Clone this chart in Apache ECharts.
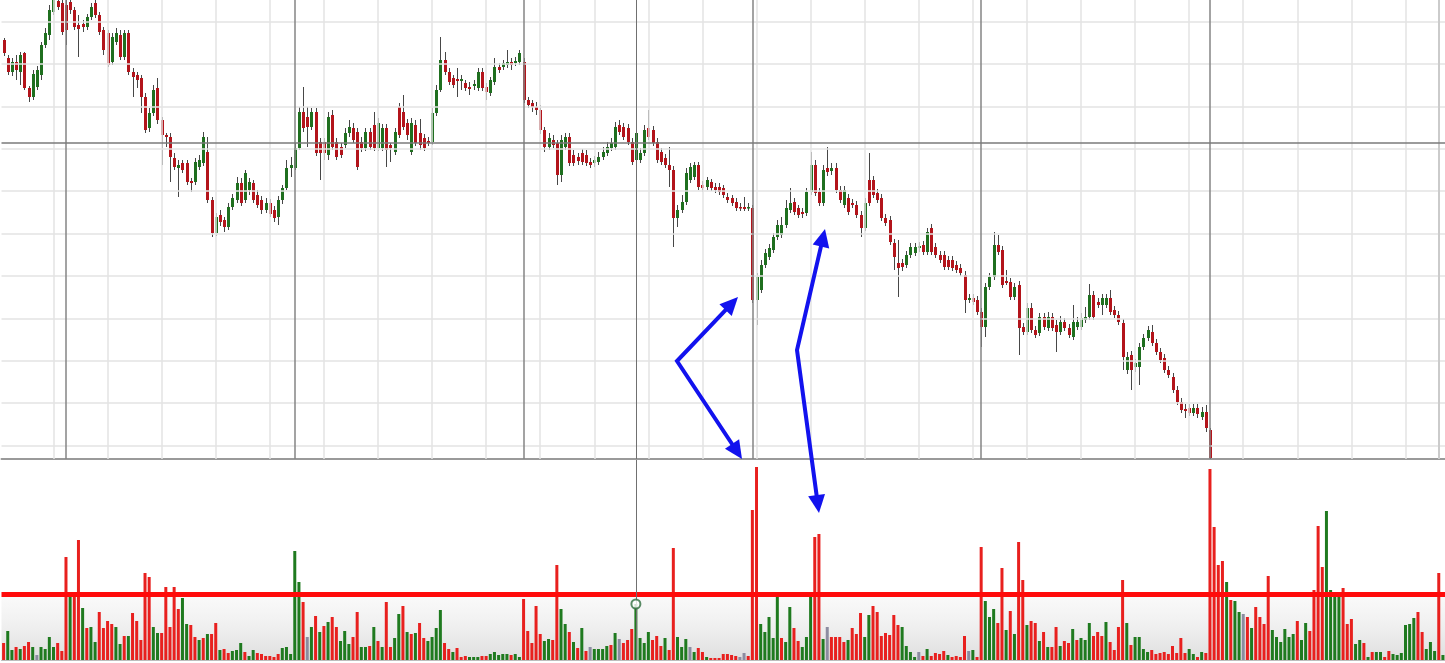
<!DOCTYPE html>
<html><head><meta charset="utf-8">
<script src="https://cdn.jsdelivr.net/npm/echarts@6/dist/echarts.min.js"></script>
<style>html,body{margin:0;padding:0;background:#fff}#chart{width:1445px;height:663px}</style>
</head><body><div id="chart"></div>
<script>
// ---- price candles (arbitrary price units) ----
const candleOpen = [
460,442,428,438,428,447,412,403,413,425,
455,465,488,499,497,495,498,490,475,476,
473,483,497,485,470,467,438,458,465,443,
467,428,425,422,403,372,387,412,380,365,
363,342,332,337,337,319,318,333,337,348,
300,267,285,280,273,293,300,317,300,310,
317,305,300,290,297,290,283,300,312,332,
332,352,388,383,373,388,358,358,345,385,
358,353,355,367,372,368,358,352,368,375,
352,352,372,355,348,393,388,377,348,375,
367,362,359,358,387,410,440,428,422,421,
419,417,413,414,412,428,413,407,418,433,
433,435,438,437,438,438,400,397,393,390,
370,353,360,357,325,353,363,345,343,347,
345,338,337,338,343,347,352,353,375,373,
372,358,340,340,347,372,370,358,348,342,
335,330,282,290,298,320,323,335,315,313,
318,313,313,312,303,302,298,293,293,292,
292,200,210,235,243,250,263,265,275,290,
298,292,288,287,308,335,308,297,332,329,
332,310,295,302,297,295,285,272,320,320,
307,302,282,280,257,237,237,235,245,247,
252,255,248,272,253,245,245,240,240,235,
232,225,200,202,200,188,173,213,223,255,
250,219,218,203,215,173,168,192,170,167,
183,172,183,175,168,178,172,163,173,173,
180,183,205,198,195,195,202,190,185,177,
130,145,133,133,153,162,168,157,148,142,
130,123,110,98,91,92,87,92,83,88,70];
const candleClose = [
447,428,438,430,445,412,403,426,430,455,
467,490,500,493,468,470,490,473,471,473,
483,493,485,468,450,435,463,467,443,467,
428,423,420,403,370,387,410,380,365,363,
343,333,335,330,318,317,338,340,363,300,
267,283,278,273,293,302,317,297,327,318,
300,295,290,297,286,282,300,312,332,335,
352,388,372,373,388,347,347,347,383,353,
343,345,367,373,360,333,352,368,353,352,
377,372,350,352,368,365,373,365,377,357,
355,352,357,387,410,440,428,418,415,419,
421,412,411,416,428,412,408,420,433,430,
437,438,435,439,447,400,395,393,390,370,
353,362,355,325,360,363,337,337,339,338,
337,335,340,343,348,353,357,373,368,363,
358,338,367,347,370,363,357,340,338,335,
330,282,290,298,327,333,335,313,312,320,
312,310,308,305,300,297,292,292,291,293,
200,223,235,247,252,263,275,275,292,297,
288,285,286,308,335,307,297,330,328,332,
310,300,310,288,295,285,272,297,297,305,
300,282,277,258,243,232,233,245,253,253,
254,248,268,248,245,240,233,233,232,230,
227,200,202,198,188,173,213,223,255,248,
215,217,203,213,172,168,192,170,165,183,
173,183,172,168,178,172,165,178,178,182,
183,205,183,195,202,202,188,185,178,143,
143,130,137,153,162,170,157,148,140,130,
125,110,98,90,89,87,92,86,88,72,42];
const candleLow = [
444,425,424,420,415,410,398,400,410,420,
452,460,485,490,465,455,486,470,443,468,
470,480,482,465,445,433,435,455,440,440,
425,403,412,387,367,368,384,376,335,353,
318,330,303,327,315,308,315,330,334,297,
263,264,274,268,270,290,297,294,297,305,
297,292,286,287,283,278,275,296,310,323,
330,350,368,353,370,344,320,340,340,350,
340,342,352,363,357,330,348,349,350,349,
349,349,333,338,345,362,370,360,345,354,
350,349,354,355,384,408,425,415,412,403,
410,409,405,410,409,409,400,404,415,427,
430,432,430,434,435,397,392,388,385,366,
348,350,352,315,318,350,334,334,335,335,
334,332,333,335,340,344,349,350,365,360,
355,335,318,337,344,360,354,337,335,332,
313,253,273,287,295,317,320,310,308,310,
309,307,305,302,297,294,289,289,289,289,
197,175,207,232,240,247,260,262,272,287,
285,282,282,284,305,304,294,294,324,325,
307,297,292,285,292,282,263,269,294,302,
297,279,274,255,230,203,229,232,242,244,
248,245,245,245,242,237,230,230,229,227,
224,187,197,195,185,153,163,210,220,245,
212,215,200,200,145,165,165,167,162,164,
170,169,169,148,165,169,162,160,170,170,
177,180,180,192,185,192,185,182,175,130,
126,110,128,115,150,159,154,145,137,127,
122,107,95,87,82,84,84,82,80,68,41];
const candleHigh = [
462,445,442,445,448,448,414,430,434,458,
472,495,505,503,504,502,503,493,485,480,
486,497,502,488,473,470,467,472,470,470,
470,432,428,425,407,392,415,422,383,367,
367,347,340,340,340,322,342,345,368,363,
303,287,290,283,297,306,323,322,330,322,
320,310,304,302,301,294,304,315,340,343,
357,393,413,393,392,392,362,362,388,390,
362,357,372,380,377,372,363,372,372,388,
382,376,376,357,372,397,405,381,382,380,
381,366,363,392,415,463,448,432,425,432,
425,420,418,420,432,432,417,423,442,437,
440,450,442,443,450,442,403,400,398,395,
373,367,365,360,365,367,367,350,347,351,
350,342,344,348,353,358,362,378,380,377,
376,362,372,352,375,390,374,362,352,346,
353,334,295,305,332,337,338,338,319,323,
321,317,317,315,307,305,302,297,303,297,
295,227,240,251,256,267,280,283,300,312,
302,295,292,312,348,340,312,335,353,337,
337,314,314,306,301,299,289,302,347,324,
311,306,286,284,261,260,241,249,257,257,
258,259,272,276,257,249,249,244,244,239,
236,229,206,206,204,192,217,227,268,265,
254,230,222,217,219,177,197,197,174,187,
187,188,187,180,184,182,176,195,183,187,
193,216,209,202,206,206,210,194,189,181,
148,149,141,157,166,174,175,161,152,146,
134,127,114,102,96,96,96,96,93,95,72];

// ---- volume (347 bars, the last ones run past the candles) ----
const volume = [
17,29,10,13,11,14,18,13,5,13,
11,23,13,17,9,103,68,68,120,52,
32,33,18,48,32,39,36,33,16,24,
24,47,39,20,87,83,33,27,27,73,
33,73,51,62,36,35,23,20,22,26,
26,37,10,11,7,9,10,17,8,4,
10,7,6,4,4,3,6,12,13,6,
109,78,58,23,33,44,28,34,38,43,
33,19,29,16,23,48,13,13,14,33,
19,13,58,13,22,46,54,28,26,27,
37,22,19,23,32,50,17,11,8,12,
3,4,3,3,3,4,4,6,8,5,
6,6,5,6,3,61,29,17,54,26,
19,21,20,95,51,36,28,18,12,32,
9,13,11,11,11,14,15,27,21,17,
20,31,56,22,17,28,20,24,14,22,
10,112,23,13,21,13,8,12,8,3,
2,2,2,6,6,5,4,3,7,4,
150,193,36,28,43,22,63,22,18,53,
32,19,13,23,63,123,126,21,33,23,
23,23,18,20,32,26,47,23,45,54,
48,24,27,25,45,35,33,14,8,3,
8,4,11,4,7,6,9,5,3,4,
3,24,9,10,3,113,59,43,51,37,
92,30,49,26,118,80,35,39,37,19,
28,13,13,33,14,19,17,31,20,22,
20,37,24,28,24,38,18,10,33,80,
37,15,23,23,11,8,10,6,7,8,
6,14,7,22,7,11,6,3,8,7,
191,133,95,99,78,60,59,48,46,43,
32,53,43,36,84,30,23,18,31,23,
26,39,20,37,29,70,134,93,149,70,
63,63,72,36,41,16,20,17,3,8,
8,8,3,9,6,5,7,35,36,42,
48,28,11,18,9,87,5];
const volumeColor = (
"RGGRGRRGNG" + "GGGRRRGRRG" + "RGGRRRRGGR" + "GRRRRRGGRR" + "RRRGGRRGRG" +
"RRGRRGGGRG" + "GRRRRRRGGG" + "GGRNGRGRGR" + "RGGGRRGGRG" + "RGRRGGRGRG" +
"RRGGGGRRGR" + "RRGGGRRGGG" + "GGRGGRRRRR" + "GGRRGGRGRG" + "RNGGGGRGNR" +
"RRGGGGRRRG" + "RRGGGNGRRG" + "RRRRRRRNNR" + "RRGGGGGRGG" + "RRGGGRRGNR" +
"RRRGRRRGGR" + "RRRRRRGGGG" + "NRGRRRRGRR" + "RRNGRRGGGR" + "RGRGRRGRRG" +
"RGRRGRRGRG" + "GGRRRGRRRR" + "GRGGGGRRRR" + "RRRRRGGRGR" + "RRRRGRGGNR" +
"GRRRRGGGGG" + "GRGGRRRRGG" + "GGRRRGGRGR" + "GGRRGGGGGG" + "RRGGGRG").split("");

// ---- reference levels / ticks ----
const barCount = 347;
const categories = Array.from({length: barCount}, (_, i) => String(i));
const sessionBreaks = [15, 70, 125, 180, 235, 290];
const timeGridIndex = [12,25,38,51,64,77,90,103,116,129,142,155,168,181,194,207,220,233,246,259,272,285,298,311,324,337];
const priceGridLevels = [478.5, 436.1, 393.7, 351.3, 308.9, 266.5, 224.1, 181.7, 139.3, 96.9, 54.5];
const rightEdgeIndex = 345;
const crosshairIndex = 152;
const crosshairPrice = 357;
const volumeThreshold = 66;

const GREEN = '#1f6f1f', RED = '#b3141b', WICK = '#474747';
const VCOL = {R: '#e8201e', G: '#1f7a1f', N: '#8c8ca0'};

const chart = echarts.init(document.getElementById('chart'), null, {renderer: 'canvas'});

const candleData = candleOpen.map((o, i) => [i, o, candleClose[i], candleLow[i], candleHigh[i]]);

function arrow(vx, vy, tx, ty) {
  const dx = tx - vx, dy = ty - vy, L = Math.hypot(dx, dy), ux = dx / L, uy = dy / L;
  const hl = 18, hw = 8.5;
  const bx = tx - ux * hl, by = ty - uy * hl;
  return {
    base: [bx + ux * 3, by + uy * 3],
    head: [[tx, ty], [bx - uy * hw, by + ux * hw], [bx + uy * hw, by - ux * hw]]
  };
}
function arrowPair(vx, vy, t1, t2) {
  const a = arrow(vx, vy, t1[0], t1[1]);
  const b = arrow(vx, vy, t2[0], t2[1]);
  const col = '#1212ee';
  return [
    {type: 'polyline', shape: {points: [a.base, [vx, vy], b.base]}, style: {stroke: col, lineWidth: 4, fill: null, lineJoin: 'miter'}, z: 100},
    {type: 'polygon', shape: {points: a.head}, style: {fill: col}, z: 100},
    {type: 'polygon', shape: {points: b.head}, style: {fill: col}, z: 100}
  ];
}

const priceMarkLines = []
  .concat(priceGridLevels.map(v => ({yAxis: v, lineStyle: {color: '#e3e3e3', width: 1.5, type: 'solid'}})))
  .concat(timeGridIndex.map(j => ({xAxis: j, lineStyle: {color: '#e3e3e3', width: 1.5, type: 'solid'}})))
  .concat([{xAxis: rightEdgeIndex, lineStyle: {color: '#cbcbcb', width: 2, type: 'solid'}}])
  .concat(sessionBreaks.map(j => ({xAxis: j, lineStyle: {color: '#858585', width: 1.5, type: 'solid'}})))
  .concat([
    {xAxis: crosshairIndex, lineStyle: {color: '#707070', width: 1, type: 'solid'}},
    {yAxis: crosshairPrice, lineStyle: {color: '#7a7a7a', width: 1.5, type: 'solid'}}
  ]);

const option = {
  animation: false,
  backgroundColor: '#ffffff',
  grid: [
    {left: 1.5, right: -1.5, top: 0, height: 459},
    {left: 1.5, right: -1.5, top: 460, height: 200}
  ],
  xAxis: [
    {type: 'category', gridIndex: 0, data: categories, boundaryGap: true,
     axisLabel: {show: false}, axisTick: {show: false}, splitLine: {show: false},
     axisLine: {show: true, lineStyle: {color: '#9a9a9a', width: 2}}},
    {type: 'category', gridIndex: 1, data: categories, boundaryGap: true,
     axisLabel: {show: false}, axisTick: {show: false}, splitLine: {show: false},
     axisLine: {show: true, lineStyle: {color: '#bdbdbd', width: 1}}}
  ],
  yAxis: [
    {type: 'value', gridIndex: 0, min: 41, max: 500, show: false},
    {type: 'value', gridIndex: 1, min: 0, max: 200, show: false}
  ],
  series: [
    {
      type: 'line', name: 'priceGrid', xAxisIndex: 0, yAxisIndex: 0, data: candleClose,
      symbol: 'none', lineStyle: {opacity: 0}, silent: true, z: 1,
      markLine: {silent: true, symbol: ['none', 'none'], label: {show: false}, animation: false, data: priceMarkLines}
    },
    {
      type: 'custom', name: 'price', xAxisIndex: 0, yAxisIndex: 0, data: candleData, clip: true, z: 3,
      encode: {x: 0, y: [1, 2, 3, 4]},
      renderItem: function (params, api) {
        const j = api.value(0), o = api.value(1), c = api.value(2), l = api.value(3), h = api.value(4);
        const pO = api.coord([j, o]), pC = api.coord([j, c]), pL = api.coord([j, l]), pH = api.coord([j, h]);
        const x = Math.round(pO[0]);
        const top = Math.min(pO[1], pC[1]), bot = Math.max(pO[1], pC[1]);
        const up = c >= o;
        return {
          type: 'group',
          children: [
            {type: 'line', shape: {x1: x + 0.5, y1: pH[1], x2: x + 0.5, y2: pL[1]}, style: {stroke: WICK, lineWidth: 1}},
            {type: 'rect', shape: {x: x - 1, y: top, width: 3, height: Math.max(bot - top, 1.5)}, style: {fill: up ? GREEN : RED}}
          ]
        };
      }
    },
    {
      type: 'line', name: 'volShade', xAxisIndex: 1, yAxisIndex: 1, data: volume,
      symbol: 'none', lineStyle: {opacity: 0}, silent: true, z: 0,
      markArea: {silent: true, label: {show: false},
        itemStyle: {color: new echarts.graphic.LinearGradient(0, 0, 0, 1, [
          {offset: 0, color: 'rgba(240,240,240,0.4)'}, {offset: 1, color: '#dedede'}])},
        data: [[{yAxis: 0}, {yAxis: 63}]]}
    },
    {
      type: 'bar', name: 'volume', xAxisIndex: 1, yAxisIndex: 1, barWidth: 3, z: 2,
      data: volume.map((v, i) => ({value: v, itemStyle: {color: VCOL[volumeColor[i]]}}))
    },
    {
      type: 'line', name: 'volLines', xAxisIndex: 1, yAxisIndex: 1, data: volume,
      symbol: 'none', lineStyle: {opacity: 0}, silent: true, z: 5,
      markLine: {silent: true, symbol: ['none', 'none'], label: {show: false}, animation: false,
        data: [
          {yAxis: volumeThreshold, lineStyle: {color: '#ff0a0a', width: 5, type: 'solid'}},
          {xAxis: crosshairIndex, lineStyle: {color: '#707070', width: 1, type: 'solid'}}
        ]}
    },
    {
      type: 'scatter', name: 'cursor', xAxisIndex: 1, yAxisIndex: 1, z: 6,
      data: [[crosshairIndex, volume[crosshairIndex]]],
      symbol: 'circle', symbolSize: 9,
      itemStyle: {color: '#ffffff', borderColor: '#2f6e3f', borderWidth: 2}
    }
  ],
  graphic: [].concat(
    arrowPair(677, 361, [738, 297], [742, 459]),
    arrowPair(797, 350, [825, 229], [819, 513])
  )
};
chart.setOption(option);
</script>
</body></html>
